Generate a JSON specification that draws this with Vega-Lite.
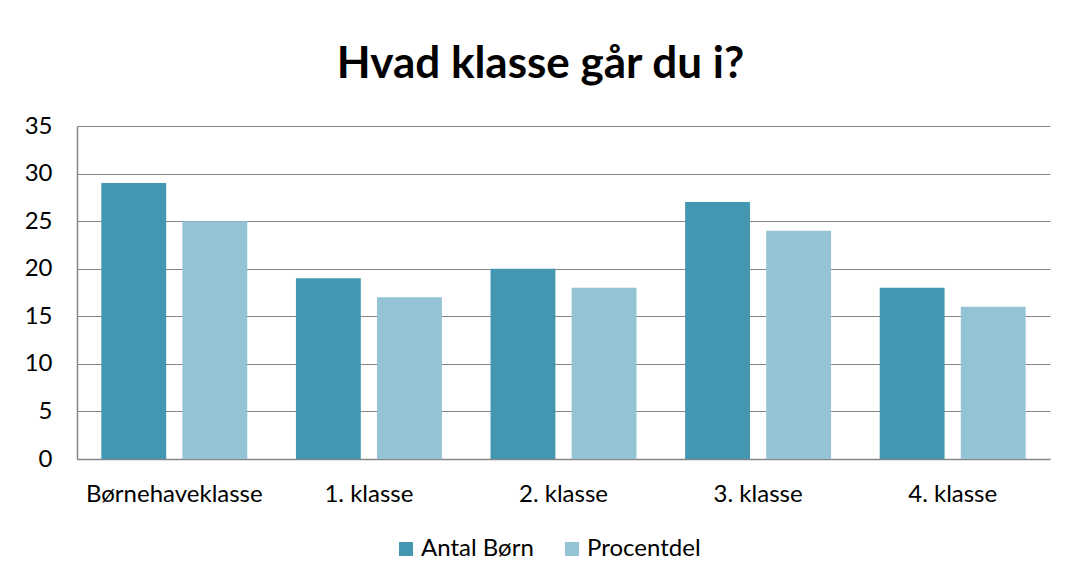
{
  "$schema": "https://vega.github.io/schema/vega-lite/v6.json",
  "autosize": "none",
  "width": 973,
  "height": 333,
  "padding": {"left": 77, "top": 126, "right": 18, "bottom": 124},
  "background": "white",
  "title": {
    "text": "Hvad klasse går du i?",
    "font": "Lato",
    "fontSize": 44,
    "fontWeight": "bold",
    "color": "#000000",
    "anchor": "middle",
    "baseline": "alphabetic",
    "offset": -8,
    "dx": -23
  },
  "data": {
    "values": [
      {"klasse": "Børnehaveklasse", "serie": "Antal Børn", "v": 29},
      {"klasse": "Børnehaveklasse", "serie": "Procentdel", "v": 25},
      {"klasse": "1. klasse", "serie": "Antal Børn", "v": 19},
      {"klasse": "1. klasse", "serie": "Procentdel", "v": 17},
      {"klasse": "2. klasse", "serie": "Antal Børn", "v": 20},
      {"klasse": "2. klasse", "serie": "Procentdel", "v": 18},
      {"klasse": "3. klasse", "serie": "Antal Børn", "v": 27},
      {"klasse": "3. klasse", "serie": "Procentdel", "v": 24},
      {"klasse": "4. klasse", "serie": "Antal Børn", "v": 18},
      {"klasse": "4. klasse", "serie": "Procentdel", "v": 16}
    ]
  },
  "mark": {"type": "bar"},
  "encoding": {
    "x": {
      "field": "klasse",
      "type": "nominal",
      "sort": null,
      "scale": {"paddingInner": 0.25, "paddingOuter": 0.125},
      "axis": {
        "title": null,
        "labelAngle": 0,
        "labelFont": "Lato",
        "labelFontSize": 24,
        "labelColor": "#000000",
        "labelPadding": 23,
        "ticks": false,
        "domainColor": "#868686",
        "domainWidth": 1.5,
        "grid": false
      }
    },
    "xOffset": {
      "field": "serie",
      "type": "nominal",
      "scale": {"paddingInner": 0.2, "paddingOuter": 0}
    },
    "y": {
      "field": "v",
      "type": "quantitative",
      "scale": {"domain": [0, 35], "nice": false},
      "axis": {
        "title": null,
        "values": [0, 5, 10, 15, 20, 25, 30, 35],
        "labelFont": "Lato",
        "labelFontSize": 24,
        "labelColor": "#000000",
        "labelPadding": 25,
        "ticks": false,
        "domainColor": "#868686",
        "domainWidth": 1.5,
        "gridColor": "#868686",
        "gridWidth": 1.2
      }
    },
    "color": {
      "field": "serie",
      "type": "nominal",
      "scale": {"domain": ["Antal Børn", "Procentdel"], "range": ["#4397B0", "#93C3D5"]},
      "legend": {
        "title": null,
        "orient": "none",
        "direction": "horizontal",
        "legendX": 317,
        "legendY": 411,
        "symbolType": "square",
        "symbolSize": 196,
        "symbolStrokeWidth": 0,
        "labelFont": "Lato",
        "labelFontSize": 24,
        "labelColor": "#000000",
        "labelOffset": 3,
        "columnPadding": 26
      }
    }
  },
  "config": {
    "view": {"stroke": null}
  }
}
